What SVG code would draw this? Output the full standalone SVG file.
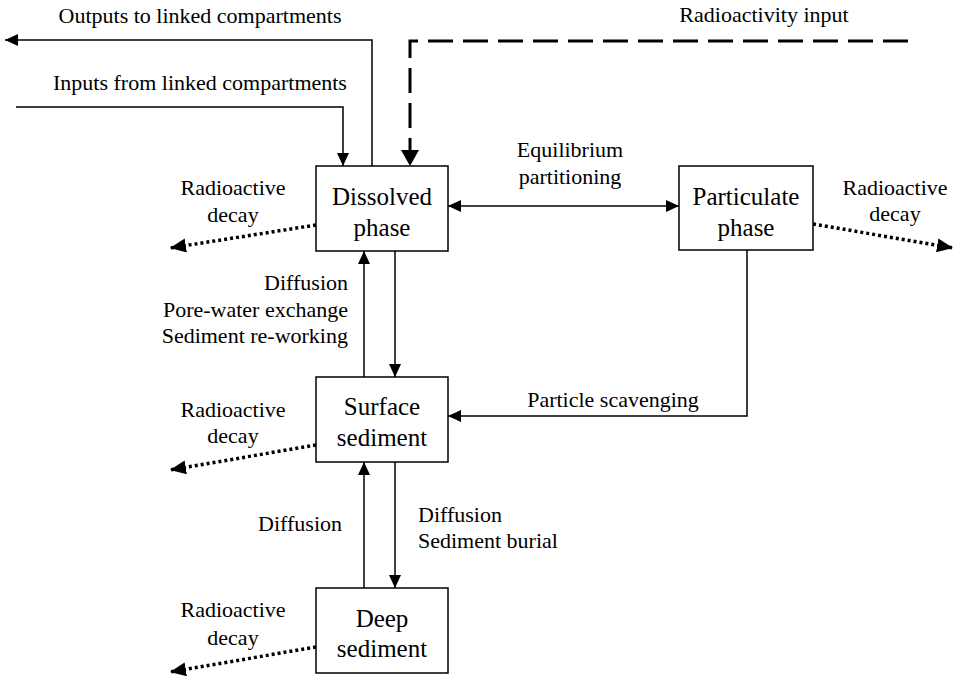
<svg xmlns="http://www.w3.org/2000/svg" width="961" height="677" viewBox="0 0 961 677" font-family="'Liberation Serif', 'DejaVu Serif', serif">
<defs>
<style>
.box{fill:#fff;stroke:#000;stroke-width:1.5}
.ln{fill:none;stroke:#000;stroke-width:1.5}
.dash{fill:none;stroke:#000;stroke-width:3;stroke-dasharray:25 10}
.dot{fill:none;stroke:#000;stroke-width:3.5;stroke-dasharray:3 3}
text{font-family:'Liberation Serif','DejaVu Serif',serif;fill:#000}
.nt{font-size:25px;text-anchor:middle}
.lb{font-size:22px}
.m{text-anchor:middle}
.e{text-anchor:end}
</style>
<marker id="ah" markerUnits="userSpaceOnUse" markerWidth="14" markerHeight="14" refX="13" refY="6" orient="auto-start-reverse"><path d="M0,0 L13,6 L0,12 Z" fill="#000"/></marker>
<marker id="ahb" markerUnits="userSpaceOnUse" markerWidth="18" markerHeight="20" refX="16" refY="9" orient="auto"><path d="M0,0 L16,9 L0,18 Z" fill="#000"/></marker>
<marker id="ahd" markerUnits="userSpaceOnUse" markerWidth="18" markerHeight="16" refX="16" refY="7" orient="auto"><path d="M0,0 L16,7 L0,14 Z" fill="#000"/></marker>
</defs>
<g id="connectors">
<polyline class="ln" points="372,166 372,40 5,40" marker-end="url(#ah)"/>
<polyline class="ln" points="16,107 343,107 343,166" marker-end="url(#ah)"/>
<polyline class="dash" points="908,41 410,41 410,166" marker-end="url(#ahb)"/>
<line class="ln" x1="448" y1="206" x2="679" y2="206" marker-start="url(#ah)" marker-end="url(#ah)"/>
<line class="ln" x1="364" y1="377" x2="364" y2="251" marker-end="url(#ah)"/>
<line class="ln" x1="395" y1="251" x2="395" y2="377" marker-end="url(#ah)"/>
<line class="ln" x1="364" y1="588" x2="364" y2="462" marker-end="url(#ah)"/>
<line class="ln" x1="395" y1="462" x2="395" y2="588" marker-end="url(#ah)"/>
<polyline class="ln" points="747,250 747,416 448,416" marker-end="url(#ah)"/>
<line class="dot" x1="316" y1="225" x2="170" y2="248" marker-end="url(#ahd)"/>
<line class="dot" x1="813" y1="224" x2="953" y2="248" marker-end="url(#ahd)"/>
<line class="dot" x1="316" y1="445" x2="170" y2="470" marker-end="url(#ahd)"/>
<line class="dot" x1="316" y1="647" x2="170" y2="672" marker-end="url(#ahd)"/>
</g>
<g id="dissolved">
<rect class="box" x="316" y="166" width="132" height="85"/>
<text class="nt" x="382" y="205">Dissolved</text>
<text class="nt" x="382" y="236">phase</text>
</g>
<g id="particulate">
<rect class="box" x="679" y="166" width="134" height="84"/>
<text class="nt" x="746" y="205">Particulate</text>
<text class="nt" x="746" y="236">phase</text>
</g>
<g id="surface">
<rect class="box" x="316" y="377" width="132" height="85"/>
<text class="nt" x="382" y="415">Surface</text>
<text class="nt" x="382" y="446">sediment</text>
</g>
<g id="deep">
<rect class="box" x="316" y="588" width="132" height="85"/>
<text class="nt" x="382" y="627">Deep</text>
<text class="nt" x="382" y="657">sediment</text>
</g>
<g id="labels">
<text class="lb m" x="200" y="23">Outputs to linked compartments</text>
<text class="lb m" x="200" y="90">Inputs from linked compartments</text>
<text class="lb m" x="764" y="22">Radioactivity input</text>
<text class="lb m" x="570" y="157">Equilibrium</text>
<text class="lb m" x="570" y="184">partitioning</text>
<text class="lb m" x="233" y="195">Radioactive</text>
<text class="lb m" x="233" y="222">decay</text>
<text class="lb m" x="895" y="195">Radioactive</text>
<text class="lb m" x="895" y="221">decay</text>
<text class="lb e" x="348" y="290">Diffusion</text>
<text class="lb e" x="348" y="317">Pore-water exchange</text>
<text class="lb e" x="348" y="343">Sediment re-working</text>
<text class="lb m" x="613" y="407">Particle scavenging</text>
<text class="lb m" x="233" y="417">Radioactive</text>
<text class="lb m" x="233" y="443">decay</text>
<text class="lb e" x="342" y="531">Diffusion</text>
<text class="lb" x="418" y="522">Diffusion</text>
<text class="lb" x="418" y="548">Sediment burial</text>
<text class="lb m" x="233" y="617">Radioactive</text>
<text class="lb m" x="233" y="645">decay</text>
</g>
</svg>
